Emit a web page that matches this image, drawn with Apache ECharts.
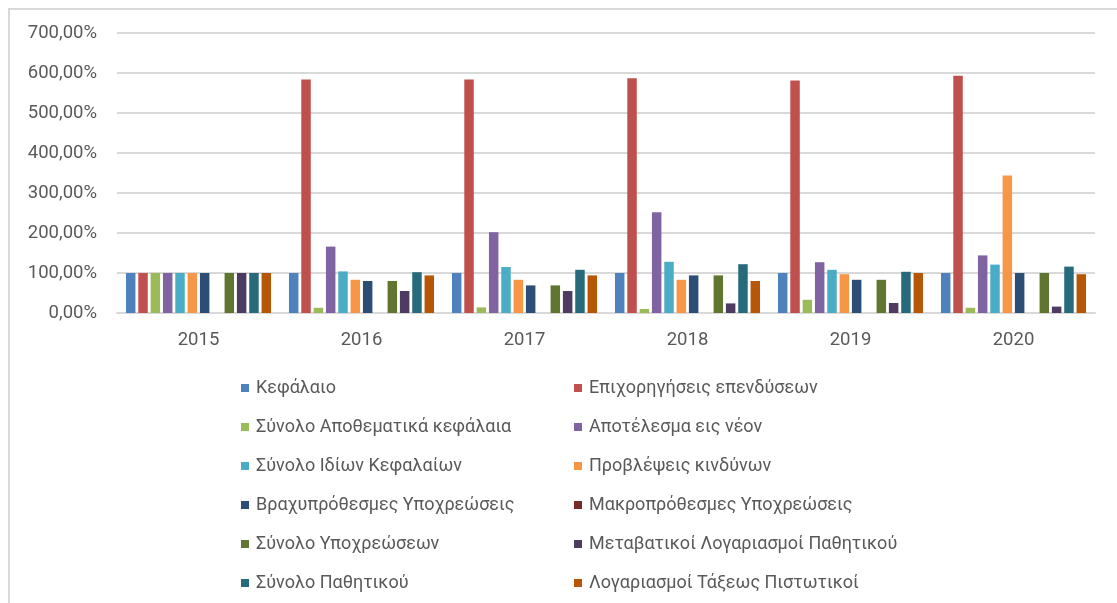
<!DOCTYPE html>
<html>
<head>
<meta charset="utf-8">
<script src="https://cdn.jsdelivr.net/npm/echarts@6/dist/echarts.min.js"></script>
<style>
html,body{margin:0;padding:0;background:#fff;}
#chart{width:1117px;height:603px;}
</style>
</head>
<body>
<div id="chart"></div>
<script>
const categories = ['2015', '2016', '2017', '2018', '2019', '2020'];

const seriesNames = [
  'Κεφάλαιο',
  'Επιχορηγήσεις επενδύσεων',
  'Σύνολο Αποθεματικά κεφάλαια',
  'Αποτέλεσμα εις νέον',
  'Σύνολο Ιδίων Κεφαλαίων',
  'Προβλέψεις κινδύνων',
  'Βραχυπρόθεσμες Υποχρεώσεις',
  'Μακροπρόθεσμες Υποχρεώσεις',
  'Σύνολο Υποχρεώσεων',
  'Μεταβατικοί Λογαριασμοί Παθητικού',
  'Σύνολο Παθητικού',
  'Λογαριασμοί Τάξεως Πιστωτικοί'
];

const kefalaio        = [100, 100, 100, 100, 100, 100];
const epixorigiseis   = [100, 584, 584, 587, 581, 593];
const apothematika    = [100, 13, 14, 10, 33, 13];
const apotelesma      = [100, 166, 202, 252, 127, 144];
const idiaKefalaia    = [100, 104, 115, 128, 108, 121];
const provlepseis     = [100, 83, 83, 83, 97, 344];
const vraxyprothesmes = [100, 80, 69, 94, 83, 100];
const makroprothesmes = [0, 0, 0, 0, 0, 0];
const synoloYpoxreoseon = [100, 80, 69, 94, 83, 100];
const metavatikoi     = [100, 55, 55, 24, 25, 16];
const synoloPathitikou = [100, 102, 108, 122, 103, 116];
const logariasmoiTaxeos = [100, 94, 94, 80, 100, 97];

const yTicks = [0, 100, 200, 300, 400, 500, 600, 700];

const seriesValues = [kefalaio, epixorigiseis, apothematika, apotelesma, idiaKefalaia, provlepseis,
  vraxyprothesmes, makroprothesmes, synoloYpoxreoseon, metavatikoi, synoloPathitikou, logariasmoiTaxeos];

const colors = ['#4F81BD', '#C0504D', '#9BBB59', '#8064A2', '#4BACC6', '#F79646',
  '#2C4D75', '#772C2A', '#5F7530', '#4D3B62', '#276A7C', '#B65708'];

const FONT = 'Roboto';
const TXT = '#595959';

const chart = echarts.init(document.getElementById('chart'), null, {renderer: 'canvas'});

const legendCommon = {
  orient: 'vertical',
  icon: 'rect',
  itemWidth: 8,
  itemHeight: 8,
  itemGap: 19,
  textStyle: {color: TXT, fontFamily: FONT, fontSize: 18, lineHeight: 20, padding: [0, 0, 0, 2]},
  selectedMode: false
};

chart.setOption({
  animation: false,
  color: colors,
  graphic: [{
    type: 'rect',
    shape: {x: 9, y: 9, width: 1200, height: 700},
    style: {fill: 'none', stroke: '#d9d9d9', lineWidth: 2},
    silent: true
  }],
  grid: {left: 117, right: 22, top: 33, bottom: 290, containLabel: false},
  legend: [
    Object.assign({}, legendCommon, {left: 236, top: 373, data: seriesNames.filter((_, i) => i % 2 === 0)}),
    Object.assign({}, legendCommon, {left: 569, top: 373, data: seriesNames.filter((_, i) => i % 2 === 1)})
  ],
  xAxis: {
    type: 'category',
    data: categories,
    axisLine: {show: true, lineStyle: {color: '#d9d9d9', width: 2}},
    axisTick: {show: false},
    axisLabel: {color: TXT, fontFamily: FONT, fontSize: 18.5, margin: 18}
  },
  yAxis: {
    type: 'value',
    min: yTicks[0],
    max: yTicks[yTicks.length - 1],
    interval: 100,
    axisLine: {show: false},
    axisTick: {show: false},
    splitLine: {lineStyle: {color: '#d9d9d9', width: 2}},
    axisLabel: {
      color: TXT, fontFamily: FONT, fontSize: 18.5, margin: 20,
      formatter: v => v.toFixed(2).replace('.', ',') + '%'
    }
  },
  series: seriesNames.map((name, i) => ({
    name: name,
    type: 'bar',
    data: seriesValues[i],
    barGap: '30%',
    barCategoryGap: '11%',
    itemStyle: {color: colors[i]}
  }))
});
</script>
</body>
</html>
